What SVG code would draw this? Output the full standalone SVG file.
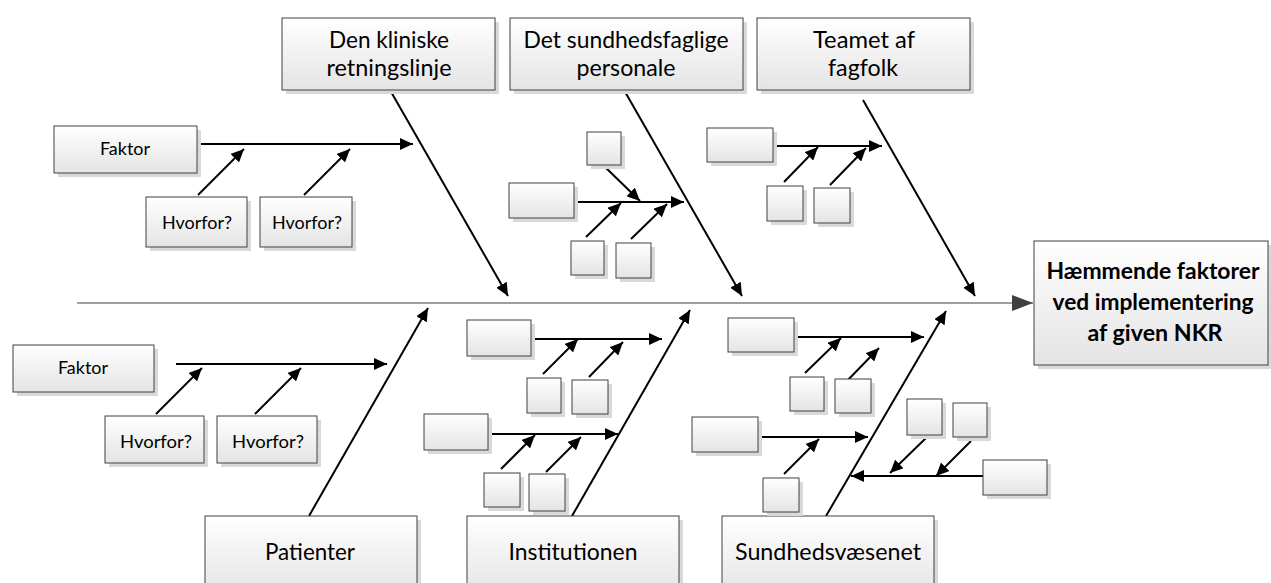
<svg xmlns="http://www.w3.org/2000/svg" width="1271" height="583" viewBox="0 0 1271 583">
  <defs>
    <linearGradient id="boxFill" x1="0" y1="0" x2="0" y2="1">
      <stop offset="0" stop-color="#ffffff"/>
      <stop offset="1" stop-color="#e4e4e4"/>
    </linearGradient>
    <marker id="head" markerUnits="userSpaceOnUse" markerWidth="14" markerHeight="12" refX="13" refY="6" orient="auto">
      <path d="M0,0 L13,6 L0,12 z" fill="#000"/>
    </marker>
    <marker id="spineHead" markerUnits="userSpaceOnUse" markerWidth="22" markerHeight="16" refX="21" refY="8" orient="auto">
      <path d="M0,0 L21,8 L0,16 z" fill="#404040"/>
    </marker>
    <filter id="soft" x="-10%" y="-10%" width="130%" height="130%">
      <feGaussianBlur stdDeviation="0.6"/>
    </filter>
  </defs>
  <style>
    .box { fill: url(#boxFill); stroke: #404040; stroke-width: 1; }
    .shadow { fill: #d9d9d9; filter: url(#soft); }
    .arrow { stroke: #000; stroke-width: 2; fill: none; marker-end: url(#head); }
    .spine { stroke: #404040; stroke-width: 1.2; fill: none; marker-end: url(#spineHead); }
    .big { font-family: Lato, "Liberation Sans", sans-serif; font-size: 24px; fill: #000; }
    .small { font-family: Lato, "Liberation Sans", sans-serif; font-size: 17.5px; fill: #000; }
    .head { font-family: Lato, "Liberation Sans", sans-serif; font-size: 23px; font-weight: bold; fill: #000; }
  </style>
  <rect width="1271" height="583" fill="#ffffff"/>

  <!-- connectors -->
  <g id="connectors">
    <!-- spine -->
    <line class="spine" x1="77" y1="303" x2="1033" y2="303"/>
    <!-- main bones, top -->
    <line class="arrow" x1="390" y1="90" x2="508" y2="296"/>
    <line class="arrow" x1="624" y1="90" x2="742" y2="296"/>
    <line class="arrow" x1="863" y1="100" x2="975" y2="296"/>
    <!-- main bones, bottom -->
    <line class="arrow" x1="309" y1="516" x2="428" y2="308"/>
    <line class="arrow" x1="572" y1="516" x2="690" y2="310"/>
    <line class="arrow" x1="826" y1="516" x2="946" y2="311"/>

    <!-- clinical guideline branch -->
    <line class="arrow" x1="197" y1="144" x2="413" y2="144"/>
    <line class="arrow" x1="198" y1="195" x2="244" y2="149"/>
    <line class="arrow" x1="304" y1="195" x2="350" y2="149"/>

    <!-- health personnel branch -->
    <line class="arrow" x1="574" y1="202" x2="684" y2="202"/>
    <line class="arrow" x1="604" y1="166" x2="640" y2="201"/>
    <line class="arrow" x1="586" y1="237" x2="621" y2="203"/>
    <line class="arrow" x1="631" y1="239" x2="667" y2="204"/>

    <!-- team branch -->
    <line class="arrow" x1="773" y1="146" x2="882" y2="146"/>
    <line class="arrow" x1="784" y1="182" x2="818" y2="147"/>
    <line class="arrow" x1="830" y1="185" x2="866" y2="148"/>

    <!-- patients branch -->
    <line class="arrow" x1="176" y1="364" x2="387" y2="364"/>
    <line class="arrow" x1="156" y1="414" x2="202" y2="368"/>
    <line class="arrow" x1="255" y1="414" x2="301" y2="368"/>

    <!-- institution branches -->
    <line class="arrow" x1="531" y1="339" x2="662" y2="339"/>
    <line class="arrow" x1="543" y1="374" x2="578" y2="339"/>
    <line class="arrow" x1="589" y1="377" x2="623" y2="342"/>
    <line class="arrow" x1="488" y1="434" x2="618" y2="434"/>
    <line class="arrow" x1="501" y1="469" x2="535" y2="435"/>
    <line class="arrow" x1="546" y1="472" x2="581" y2="437"/>

    <!-- health system branches -->
    <line class="arrow" x1="794" y1="337" x2="924" y2="337"/>
    <line class="arrow" x1="805" y1="373" x2="841" y2="338"/>
    <line class="arrow" x1="844" y1="384" x2="879" y2="348"/>
    <line class="arrow" x1="758" y1="437" x2="868" y2="437"/>
    <line class="arrow" x1="784" y1="474" x2="819" y2="439"/>
    <line class="arrow" x1="983" y1="476" x2="851" y2="476"/>
    <line class="arrow" x1="926" y1="438" x2="890" y2="473"/>
    <line class="arrow" x1="971" y1="441" x2="936" y2="476"/>
  </g>

  <!-- effect -->
  <g id="effect">
    <rect class="shadow" x="1038" y="245" width="234" height="124"/>
    <rect class="box" x="1034" y="241" width="234" height="124"/>
    <text class="head" x="1153" y="279" text-anchor="middle" textLength="213" lengthAdjust="spacingAndGlyphs">Hæmmende faktorer</text>
    <text class="head" x="1153" y="310" text-anchor="middle" textLength="201" lengthAdjust="spacingAndGlyphs">ved implementering</text>
    <text class="head" x="1155" y="341" text-anchor="middle" textLength="135" lengthAdjust="spacingAndGlyphs">af given NKR</text>
  </g>

  <!-- category heads, top -->
  <g id="cat-guideline">
    <rect class="shadow" x="286" y="22" width="213" height="72"/>
    <rect class="box" x="282" y="18" width="213" height="72"/>
    <text class="big" x="389" y="48" text-anchor="middle" textLength="120" lengthAdjust="spacingAndGlyphs">Den kliniske</text>
    <text class="big" x="389" y="76" text-anchor="middle" textLength="125" lengthAdjust="spacingAndGlyphs">retningslinje</text>
  </g>
  <g id="cat-personnel">
    <rect class="shadow" x="514" y="22" width="233" height="72"/>
    <rect class="box" x="510" y="18" width="233" height="72"/>
    <text class="big" x="626" y="48" text-anchor="middle" textLength="205" lengthAdjust="spacingAndGlyphs">Det sundhedsfaglige</text>
    <text class="big" x="626" y="76" text-anchor="middle" textLength="99" lengthAdjust="spacingAndGlyphs">personale</text>
  </g>
  <g id="cat-team">
    <rect class="shadow" x="761" y="22" width="213" height="72"/>
    <rect class="box" x="757" y="18" width="213" height="72"/>
    <text class="big" x="864" y="48" text-anchor="middle" textLength="102" lengthAdjust="spacingAndGlyphs">Teamet af</text>
    <text class="big" x="863" y="76" text-anchor="middle" textLength="70" lengthAdjust="spacingAndGlyphs">fagfolk</text>
  </g>

  <!-- category heads, bottom -->
  <g id="cat-patients">
    <rect class="shadow" x="209" y="520" width="212" height="80"/>
    <rect class="box" x="205" y="516" width="212" height="80"/>
    <text class="big" x="310" y="560" text-anchor="middle" textLength="90" lengthAdjust="spacingAndGlyphs">Patienter</text>
  </g>
  <g id="cat-institution">
    <rect class="shadow" x="471" y="520" width="212" height="80"/>
    <rect class="box" x="467" y="516" width="212" height="80"/>
    <text class="big" x="573" y="560" text-anchor="middle" textLength="129" lengthAdjust="spacingAndGlyphs">Institutionen</text>
  </g>
  <g id="cat-healthsystem">
    <rect class="shadow" x="726" y="520" width="212" height="80"/>
    <rect class="box" x="722" y="516" width="212" height="80"/>
    <text class="big" x="828" y="560" text-anchor="middle" textLength="186" lengthAdjust="spacingAndGlyphs">Sundhedsvæsenet</text>
  </g>

  <!-- causes: clinical guideline -->
  <g id="cause-g1">
    <rect class="shadow" x="58" y="130" width="143" height="47"/>
    <rect class="box" x="54" y="126" width="143" height="47"/>
    <text class="small" x="125" y="155" text-anchor="middle" textLength="50" lengthAdjust="spacingAndGlyphs">Faktor</text>
  </g>
  <g id="why-g1">
    <rect class="shadow" x="150" y="201" width="101" height="50"/>
    <rect class="box" x="146" y="197" width="101" height="50"/>
    <text class="small" x="197" y="229" text-anchor="middle" textLength="70" lengthAdjust="spacingAndGlyphs">Hvorfor?</text>
  </g>
  <g id="why-g2">
    <rect class="shadow" x="264" y="201" width="92" height="50"/>
    <rect class="box" x="260" y="197" width="92" height="50"/>
    <text class="small" x="307" y="229" text-anchor="middle" textLength="70" lengthAdjust="spacingAndGlyphs">Hvorfor?</text>
  </g>

  <!-- causes: health personnel -->
  <g id="cause-p1">
    <rect class="shadow" x="513" y="187" width="65" height="35"/>
    <rect class="box" x="509" y="183" width="65" height="35"/>
  </g>
  <g id="why-p0">
    <rect class="shadow" x="591" y="136" width="34" height="33"/>
    <rect class="box" x="587" y="132" width="34" height="33"/>
  </g>
  <g id="why-p1">
    <rect class="shadow" x="575" y="245" width="33" height="34"/>
    <rect class="box" x="571" y="241" width="33" height="34"/>
  </g>
  <g id="why-p2">
    <rect class="shadow" x="620" y="247" width="35" height="35"/>
    <rect class="box" x="616" y="243" width="35" height="35"/>
  </g>

  <!-- causes: team -->
  <g id="cause-t1">
    <rect class="shadow" x="711" y="132" width="66" height="34"/>
    <rect class="box" x="707" y="128" width="66" height="34"/>
  </g>
  <g id="why-t1">
    <rect class="shadow" x="771" y="190" width="36" height="35"/>
    <rect class="box" x="767" y="186" width="36" height="35"/>
  </g>
  <g id="why-t2">
    <rect class="shadow" x="818" y="192" width="36" height="35"/>
    <rect class="box" x="814" y="188" width="36" height="35"/>
  </g>

  <!-- causes: patients -->
  <g id="cause-pt1">
    <rect class="shadow" x="17" y="349" width="141" height="47"/>
    <rect class="box" x="13" y="345" width="141" height="47"/>
    <text class="small" x="83" y="374" text-anchor="middle" textLength="50" lengthAdjust="spacingAndGlyphs">Faktor</text>
  </g>
  <g id="why-pt1">
    <rect class="shadow" x="109" y="420" width="99" height="47"/>
    <rect class="box" x="105" y="416" width="99" height="47"/>
    <text class="small" x="156" y="448" text-anchor="middle" textLength="72" lengthAdjust="spacingAndGlyphs">Hvorfor?</text>
  </g>
  <g id="why-pt2">
    <rect class="shadow" x="221" y="420" width="100" height="47"/>
    <rect class="box" x="217" y="416" width="100" height="47"/>
    <text class="small" x="268" y="448" text-anchor="middle" textLength="72" lengthAdjust="spacingAndGlyphs">Hvorfor?</text>
  </g>

  <!-- causes: institution -->
  <g id="cause-i1">
    <rect class="shadow" x="471" y="324" width="64" height="36"/>
    <rect class="box" x="467" y="320" width="64" height="36"/>
  </g>
  <g id="why-i1">
    <rect class="shadow" x="531" y="382" width="34" height="35"/>
    <rect class="box" x="527" y="378" width="34" height="35"/>
  </g>
  <g id="why-i2">
    <rect class="shadow" x="576" y="384" width="36" height="34"/>
    <rect class="box" x="572" y="380" width="36" height="34"/>
  </g>
  <g id="cause-i2">
    <rect class="shadow" x="428" y="418" width="64" height="36"/>
    <rect class="box" x="424" y="414" width="64" height="36"/>
  </g>
  <g id="why-i3">
    <rect class="shadow" x="488" y="477" width="36" height="34"/>
    <rect class="box" x="484" y="473" width="36" height="34"/>
  </g>
  <g id="why-i4">
    <rect class="shadow" x="533" y="478" width="36" height="37"/>
    <rect class="box" x="529" y="474" width="36" height="37"/>
  </g>

  <!-- causes: health system -->
  <g id="cause-h1">
    <rect class="shadow" x="732" y="322" width="66" height="34"/>
    <rect class="box" x="728" y="318" width="66" height="34"/>
  </g>
  <g id="why-h1">
    <rect class="shadow" x="794" y="381" width="34" height="34"/>
    <rect class="box" x="790" y="377" width="34" height="34"/>
  </g>
  <g id="why-h2">
    <rect class="shadow" x="839" y="383" width="36" height="34"/>
    <rect class="box" x="835" y="379" width="36" height="34"/>
  </g>
  <g id="cause-h2">
    <rect class="shadow" x="696" y="421" width="66" height="35"/>
    <rect class="box" x="692" y="417" width="66" height="35"/>
  </g>
  <g id="why-h3">
    <rect class="shadow" x="767" y="482" width="36" height="34"/>
    <rect class="box" x="763" y="478" width="36" height="34"/>
  </g>
  <g id="why-h4">
    <rect class="shadow" x="911" y="403" width="35" height="36"/>
    <rect class="box" x="907" y="399" width="35" height="36"/>
  </g>
  <g id="why-h5">
    <rect class="shadow" x="957" y="407" width="34" height="34"/>
    <rect class="box" x="953" y="403" width="34" height="34"/>
  </g>
  <g id="cause-h3">
    <rect class="shadow" x="987" y="464" width="64" height="35"/>
    <rect class="box" x="983" y="460" width="64" height="35"/>
  </g>
</svg>
